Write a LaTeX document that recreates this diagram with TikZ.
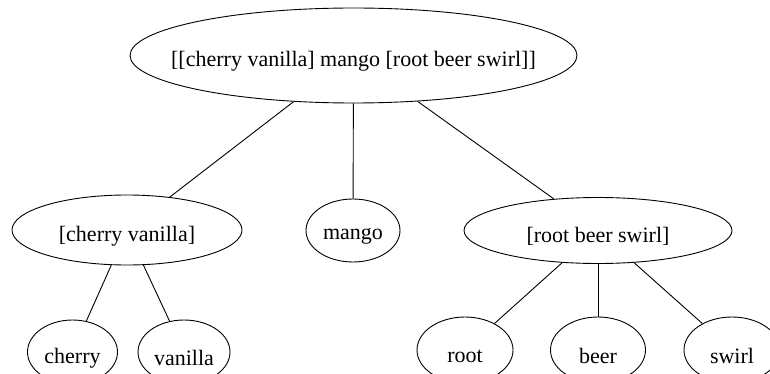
\documentclass[tikz,border=0pt]{standalone}
\usepackage{fontspec}
\setmainfont{Liberation Serif}
\usetikzlibrary{shapes.geometric}
\begin{document}
\begin{tikzpicture}[x=1pt,y=-1pt,
  nd/.style={draw,ellipse,inner sep=0pt,line width=0.9pt},
  lab/.style={inner sep=0pt,anchor=base,yshift=-6pt,font=\fontsize{22}{26}\selectfont},
  edge/.style={line width=0.9pt}]
\useasboundingbox (0,0) rectangle (770,374);
\clip (0,0) rectangle (770,374);
\node[nd,minimum width=447pt,minimum height=95pt,label={[lab]center:[[cherry vanilla] mango [root beer swirl]]}] (top) at (353.5,55.5) {};
\node[nd,minimum width=230pt,minimum height=70pt,label={[lab]center:[cherry vanilla]}] (cv) at (127,230) {};
\node[nd,minimum width=94pt,minimum height=63pt,label={[lab]center:mango}] (mango) at (353,230.5) {};
\node[nd,minimum width=268pt,minimum height=66pt,label={[lab]center:[root beer swirl]}] (rbs) at (598,230.5) {};
\node[nd,minimum width=90pt,minimum height=64pt,label={[lab]center:cherry}] (cherry) at (72.5,352) {};
\node[nd,minimum width=92pt,minimum height=64pt,label={[lab]center:vanilla}] (vanilla) at (184,352) {};
\node[nd,minimum width=96pt,minimum height=66pt,label={[lab]center:root}] (root) at (465,350) {};
\node[nd,minimum width=95pt,minimum height=66pt,label={[lab]center:beer}] (beer) at (598,350) {};
\node[nd,minimum width=96pt,minimum height=66pt,label={[lab]center:swirl}] (swirl) at (732,350) {};
\draw[edge] (top) -- (cv);
\draw[edge] (top) -- (mango);
\draw[edge] (top) -- (rbs);
\draw[edge] (cv) -- (cherry);
\draw[edge] (cv) -- (vanilla);
\draw[edge] (rbs) -- (root);
\draw[edge] (rbs) -- (beer);
\draw[edge] (rbs) -- (swirl);
\end{tikzpicture}
\end{document}
